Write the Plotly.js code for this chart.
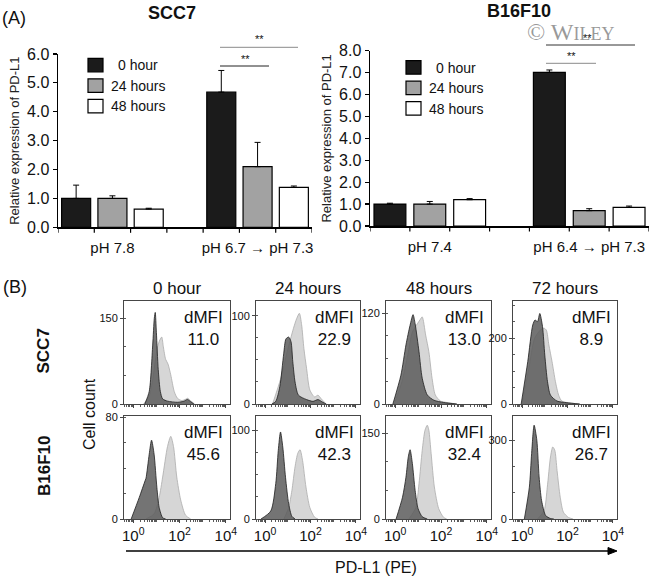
<!DOCTYPE html>
<html><head><meta charset="utf-8">
<script src="https://cdn.plot.ly/plotly-3.0.1.min.js"></script>
<style>html,body{margin:0;padding:0;background:#fff}#chart{width:650px;height:579px}</style>
</head><body><div id="chart"></div>
<script>
// ===== Panel A: relative PD-L1 expression (bar charts) =====
const timeLabels = ['0 hour', '24 hours', '48 hours'];
const scc7Conditions = ['pH 7.8', 'pH 6.7 \u2192 pH 7.3'];
const b16Conditions = ['pH 7.4', 'pH 6.4 \u2192 pH 7.3'];
const scc7_0h = [1.00, 4.68];
const scc7_24h = [1.00, 2.10];
const scc7_48h = [0.63, 1.38];
const scc7_0h_err = [0.46, 0.75];
const scc7_24h_err = [0.09, 0.84];
const scc7_48h_err = [0.03, 0.05];
const b16_0h = [1.00, 7.01];
const b16_24h = [1.00, 0.70];
const b16_48h = [1.20, 0.85];
const b16_0h_err = [0.04, 0.11];
const b16_24h_err = [0.12, 0.09];
const b16_48h_err = [0.05, 0.06];

// ===== Panel B: flow cytometry histograms =====
const histCols = ['0 hour', '24 hours', '48 hours', '72 hours'];
const histRows = ['SCC7', 'B16F10'];
const scc7_dMFI = ['11.0', '22.9', '13.0', '8.9'];
const b16_dMFI = ['45.6', '42.3', '32.4', '26.7'];
const scc7_yTick = [150, 100, 120, 200];
const b16_yTick = [80, 100, 150, 300];

// log10(PE intensity) and cell counts; iso = dark (control), pdl1 = light (PD-L1 stained)
const scc7_0h_isoLog = [0.50, 0.69, 0.84, 0.91, 0.95, 1.00, 1.08, 1.17, 1.27, 1.48, 1.91, 2.20, 2.34, 2.48, 2.62];
const scc7_0h_isoCount = [0, 22, 103, 150, 160, 125, 60, 22, 9, 5, 3, 5, 8, 4, 0];
const scc7_0h_pdl1Log = [0.45, 0.70, 0.85, 0.95, 1.05, 1.15, 1.23, 1.30, 1.40, 1.50, 1.62, 1.77, 1.91, 2.10, 2.25, 2.35, 2.50, 2.65];
const scc7_0h_pdl1Count = [0, 15, 45, 75, 100, 112, 117, 100, 78, 70, 51, 22, 10, 6, 8, 10, 5, 0];

const scc7_24h_isoLog = [0.30, 0.47, 0.65, 0.82, 0.92, 1.04, 1.14, 1.22, 1.32, 1.47, 1.83, 2.11, 2.33, 2.54, 2.69];
const scc7_24h_isoCount = [0, 3, 20, 57, 74, 76, 71, 48, 25, 10, 5, 3, 5, 2, 0];
const scc7_24h_pdl1Log = [0.33, 0.69, 0.97, 1.25, 1.39, 1.51, 1.61, 1.71, 1.83, 1.97, 2.18, 2.33, 2.47, 2.69];
const scc7_24h_pdl1Count = [0, 29, 59, 86, 97, 103, 90, 63, 40, 16, 8, 10, 6, 0];

const scc7_48h_isoLog = [-0.10, 0.25, 0.47, 0.65, 0.78, 0.87, 1.04, 1.18, 1.40, 1.69, 2.12, 2.69];
const scc7_48h_isoCount = [0, 38, 78, 104, 118, 106, 69, 34, 12, 5, 2, 0];
const scc7_48h_pdl1Log = [-0.04, 0.30, 0.55, 0.75, 0.97, 1.08, 1.18, 1.33, 1.47, 1.61, 1.75, 1.97, 2.25, 2.69];
const scc7_48h_pdl1Count = [0, 30, 65, 95, 106, 111, 115, 91, 69, 34, 12, 4, 2, 0];

const scc7_72h_isoLog = [-0.04, 0.25, 0.47, 0.57, 0.68, 0.78, 0.90, 1.00, 1.12, 1.25, 1.54, 1.97, 2.54];
const scc7_72h_isoCount = [0, 129, 241, 256, 251, 276, 236, 149, 68, 27, 9, 4, 0];
const scc7_72h_pdl1Log = [0.00, 0.30, 0.55, 0.80, 0.97, 1.07, 1.18, 1.32, 1.47, 1.61, 1.75, 2.11, 2.54];
const scc7_72h_pdl1Count = [0, 110, 200, 225, 231, 225, 180, 129, 68, 27, 9, 3, 0];

const b16_0h_isoLog = [-0.09, 0.26, 0.51, 0.55, 0.69, 0.79, 0.90, 1.02, 1.12, 1.27, 1.40];
const b16_0h_isoCount = [0, 17, 30, 32, 51, 62, 51, 25, 9, 1, 0];
const b16_0h_pdl1Log = [0.55, 0.90, 1.12, 1.27, 1.48, 1.62, 1.74, 1.88, 2.05, 2.26, 2.48];
const b16_0h_pdl1Count = [0, 4, 17, 33, 57, 65, 57, 33, 15, 3, 0];

const b16_24h_isoLog = [-0.18, 0.25, 0.47, 0.58, 0.68, 0.78, 0.90, 1.04, 1.18, 1.32];
const b16_24h_isoCount = [0, 9, 40, 77, 98, 81, 47, 17, 3, 0];
const b16_24h_pdl1Log = [0.83, 1.04, 1.18, 1.32, 1.44, 1.54, 1.65, 1.80, 1.97, 2.18, 2.33];
const b16_24h_pdl1Count = [0, 13, 32, 59, 74, 78, 66, 36, 13, 2, 0];

const b16_48h_isoLog = [0.04, 0.32, 0.47, 0.57, 0.65, 0.75, 0.87, 1.00, 1.18, 1.40];
const b16_48h_isoCount = [0, 38, 73, 108, 121, 97, 50, 18, 4, 0];
const b16_48h_pdl1Log = [0.60, 0.90, 1.04, 1.18, 1.30, 1.40, 1.47, 1.57, 1.71, 1.90, 2.11, 2.25];
const b16_48h_pdl1Count = [0, 20, 62, 120, 155, 164, 155, 114, 56, 18, 3, 0];

const b16_72h_isoLog = [0.10, 0.32, 0.42, 0.53, 0.65, 0.75, 0.86, 1.04, 1.25, 1.40];
const b16_72h_isoCount = [0, 121, 249, 357, 300, 160, 70, 13, 2, 0];
const b16_72h_pdl1Log = [0.68, 0.97, 1.11, 1.25, 1.35, 1.44, 1.54, 1.68, 1.82, 2.04, 2.25];
const b16_72h_pdl1Count = [0, 32, 121, 236, 274, 262, 185, 83, 26, 6, 0];

// ===== layout helpers (pixel -> paper) =====
const W = 650, H = 579;
const fx = p => p / W;
const fy = p => 1 - p / H;
const FONT = 'Liberation Sans, Arial, Helvetica, sans-serif';

const traces = [];
const barColors = ['#1b1b1b', '#a2a2a2', '#ffffff'];
function addBars(cond, vals, errs, xa, ya) {
  vals.forEach((v, i) => {
    traces.push({
      type: 'bar', x: cond, y: v, name: timeLabels[i], xaxis: xa, yaxis: ya,
      marker: {color: barColors[i], line: {color: '#000', width: 1.2}},
      error_y: {type: 'data', symmetric: false, array: errs[i], arrayminus: errs[i].map(() => 0),
                color: '#000', thickness: 1, width: 3},
      showlegend: false, hoverinfo: 'skip'
    });
  });
}
addBars(scc7Conditions, [scc7_0h, scc7_24h, scc7_48h], [scc7_0h_err, scc7_24h_err, scc7_48h_err], 'x', 'y');
addBars(b16Conditions, [b16_0h, b16_24h, b16_48h], [b16_0h_err, b16_24h_err, b16_48h_err], 'x2', 'y2');

const histPanels = [
  [[scc7_0h_isoLog, scc7_0h_isoCount, scc7_0h_pdl1Log, scc7_0h_pdl1Count],
   [scc7_24h_isoLog, scc7_24h_isoCount, scc7_24h_pdl1Log, scc7_24h_pdl1Count],
   [scc7_48h_isoLog, scc7_48h_isoCount, scc7_48h_pdl1Log, scc7_48h_pdl1Count],
   [scc7_72h_isoLog, scc7_72h_isoCount, scc7_72h_pdl1Log, scc7_72h_pdl1Count]],
  [[b16_0h_isoLog, b16_0h_isoCount, b16_0h_pdl1Log, b16_0h_pdl1Count],
   [b16_24h_isoLog, b16_24h_isoCount, b16_24h_pdl1Log, b16_24h_pdl1Count],
   [b16_48h_isoLog, b16_48h_isoCount, b16_48h_pdl1Log, b16_48h_pdl1Count],
   [b16_72h_isoLog, b16_72h_isoCount, b16_72h_pdl1Log, b16_72h_pdl1Count]]
];
const dMFI = [scc7_dMFI, b16_dMFI];
const yTicks = [scc7_yTick, b16_yTick];

const colX = [[124, 230], [256, 360], [386, 491], [513, 617]];
const rowY = [[301, 404], [416, 519]];
const yMax = [[180, 117, 136, 314], [81, 116, 180, 392]];
const yMinor = [[50, 25, 30, 50], [20, 25, 50, 100]];

const layout = {
  width: W, height: H,
  margin: {l: 0, r: 0, t: 0, b: 0},
  paper_bgcolor: '#fff', plot_bgcolor: 'rgba(0,0,0,0)',
  font: {family: FONT, color: '#1a1a1a'},
  barmode: 'group', bargap: 0.25, bargroupgap: 0.2,
  showlegend: false,
  shapes: [], annotations: []
};

function barAxes(xk, yk, dom, ydom, yr, anchorX, anchorY) {
  layout[xk] = {domain: dom, anchor: anchorY, type: 'category', range: [-0.375, 1.375],
    showline: true, linecolor: '#000', linewidth: 1.5, ticks: 'outside', ticklen: 6,
    tickcolor: 'rgba(0,0,0,0)', tickfont: {size: 15, color: '#111'}, showgrid: false, zeroline: false, fixedrange: true};
  layout[yk] = {domain: ydom, anchor: anchorX, range: yr, dtick: 1, tickformat: '.1f',
    ticks: 'outside', ticklen: 4, tickwidth: 1.2, tickcolor: '#000', showline: true, linecolor: '#000', linewidth: 1.5,
    tickfont: {size: 16, color: '#111'}, showgrid: false, zeroline: false, fixedrange: true,
    title: {text: 'Relative expression of PD-L1', font: {size: 13, color: '#222'}, standoff: 4}};
}
barAxes('xaxis', 'yaxis', [fx(58), fx(312)], [fy(227.3), fy(54)], [0, 6], 'x', 'y');
barAxes('xaxis2', 'yaxis2', [fx(370), fx(649)], [fy(226), fy(50.7)], [0, 8], 'x2', 'y2');

// slot-boundary tick marks on bar chart x axes
[['x', 227.3], ['x2', 226]].forEach(([xr, base]) => {
  for (let k = 0; k <= 7; k++) {
    const b = -0.375 + k * 0.25;
    layout.shapes.push({type: 'line', xref: xr, yref: 'paper', x0: b, x1: b, y0: fy(base), y1: fy(base + 5.5),
      line: {color: '#000', width: 1.2}});
  }
});

// custom legends
function addLegend(x0, y0) {
  timeLabels.forEach((t, i) => {
    const yy = y0 + i * 20.5;
    layout.shapes.push({type: 'rect', xref: 'paper', yref: 'paper', x0: fx(x0), x1: fx(x0 + 15), y0: fy(yy), y1: fy(yy + 13.5),
      fillcolor: barColors[i], line: {color: '#000', width: 1.2}});
    layout.annotations.push({xref: 'paper', yref: 'paper', x: fx(x0 + 50), y: fy(yy + 7), text: t, showarrow: false,
      xanchor: 'center', yanchor: 'middle', font: {size: 14, color: '#111'}});
  });
}
addLegend(88, 58.3);
addLegend(406, 60.7);

// significance brackets
function sig(x0, x1, y, col, starX, starY) {
  layout.shapes.push({type: 'line', xref: 'paper', yref: 'paper', x0: fx(x0), x1: fx(x1), y0: fy(y), y1: fy(y), line: {color: col, width: 1}});
  layout.annotations.push({xref: 'paper', yref: 'paper', x: fx(starX), y: fy(starY), text: '**', showarrow: false,
    xanchor: 'center', yanchor: 'middle', font: {size: 11, color: '#111'}});
}
sig(220, 298, 47.3, '#8a8a8a', 259, 39.5);
sig(220, 269, 66, '#222', 245, 58.5);
sig(546, 635, 45, '#333', 587, 38);
sig(546, 596, 63.3, '#8a8a8a', 571, 55.5);

// titles of panel A
const ann = (x, y, text, size, extra) => layout.annotations.push(Object.assign({xref: 'paper', yref: 'paper', x: fx(x), y: fy(y),
  text: text, showarrow: false, xanchor: 'center', yanchor: 'middle', font: {size: size, color: '#111'}}, extra || {}));
ann(14, 18, '(A)', 18);
ann(172, 13, '<b>SCC7</b>', 18);
ann(519, 11, '<b>B16F10</b>', 18);
ann(570, 32, '\u00a9 W<span style="font-size:18px">ILEY</span>', 24, {font: {size: 24, color: 'rgba(120,120,120,0.75)', family: 'Liberation Serif, DejaVu Serif, serif'}});

// panel B
ann(15, 287, '(B)', 18);
histCols.forEach((c, j) => ann((colX[j][0] + colX[j][1]) / 2, 288, c, 17));
ann(42.5, 351, '<b>SCC7</b>', 17, {textangle: -90});
ann(44, 466, '<b>B16F10</b>', 17, {textangle: -90});
ann(89, 414, 'Cell count', 16, {textangle: -90});
ann(375.5, 567, 'PD-L1 (PE)', 16);

// arrow under histograms
layout.shapes.push({type: 'line', xref: 'paper', yref: 'paper', x0: fx(126), x1: fx(609), y0: fy(551), y1: fy(551), line: {color: '#000', width: 1.5}});
layout.shapes.push({type: 'path', xref: 'paper', yref: 'paper',
  path: `M ${fx(608)} ${fy(547.5)} L ${fx(617)} ${fy(551)} L ${fx(608)} ${fy(554.5)} Z`, fillcolor: '#000', line: {color: '#000', width: 1}});

for (let r = 0; r < 2; r++) {
  for (let c = 0; c < 4; c++) {
    const n = 3 + r * 4 + c;
    const [isoL, isoC, pdL, pdC] = histPanels[r][c];
    traces.push({type: 'scatter', mode: 'lines', x: pdL.map(v => Math.pow(10, v)), y: pdC,
      fill: 'tozeroy', fillcolor: 'rgb(214,214,214)', line: {color: 'rgb(172,172,172)', width: 0.8, shape: 'spline', smoothing: 0.7},
      xaxis: 'x' + n, yaxis: 'y' + n, showlegend: false, hoverinfo: 'skip'});
    traces.push({type: 'scatter', mode: 'lines', x: isoL.map(v => Math.pow(10, v)), y: isoC,
      fill: 'tozeroy', fillcolor: 'rgba(92,92,92,0.85)', line: {color: 'rgb(30,30,30)', width: 0.8, shape: 'spline', smoothing: 0.7},
      xaxis: 'x' + n, yaxis: 'y' + n, showlegend: false, hoverinfo: 'skip'});
    layout['xaxis' + n] = {domain: [fx(colX[c][0]), fx(colX[c][1])], anchor: 'y' + n, type: 'log', range: [-0.4, 4.18],
      showline: true, mirror: true, linecolor: 'rgb(70,70,70)', linewidth: 1,
      ticks: 'outside', ticklen: 3, tickcolor: 'rgb(70,70,70)',
      tickvals: [1, 100, 10000], ticktext: ['10<sup>0</sup>', '10<sup>2</sup>', '10<sup>4</sup>'],
      showticklabels: r === 1, tickfont: {size: 15, color: '#111'},
      minor: {dtick: 'D1', ticks: 'outside', ticklen: 2, tickcolor: 'rgb(90,90,90)'},
      showgrid: false, zeroline: false, fixedrange: true};
    layout['yaxis' + n] = {domain: [fy(rowY[r][1]), fy(rowY[r][0])], anchor: 'x' + n, range: [0, yMax[r][c]],
      showline: true, mirror: true, linecolor: 'rgb(70,70,70)', linewidth: 1,
      ticks: 'outside', ticklen: 3, tickcolor: 'rgb(70,70,70)',
      tickvals: [0, yTicks[r][c]], ticktext: ['0', String(yTicks[r][c])], tickfont: {size: 11, color: '#111'},
      minor: {dtick: yMinor[r][c], ticks: 'inside', ticklen: 2, tickcolor: 'rgb(90,90,90)'},
      showgrid: false, zeroline: false, fixedrange: true};
    const cx = colX[c][0] + 0.75 * (colX[c][1] - colX[c][0]);
    ann(cx, rowY[r][0] + 27, 'dMFI<br>' + dMFI[r][c], 17);
  }
}

Plotly.newPlot('chart', traces, layout, {staticPlot: true});
</script></body></html>
